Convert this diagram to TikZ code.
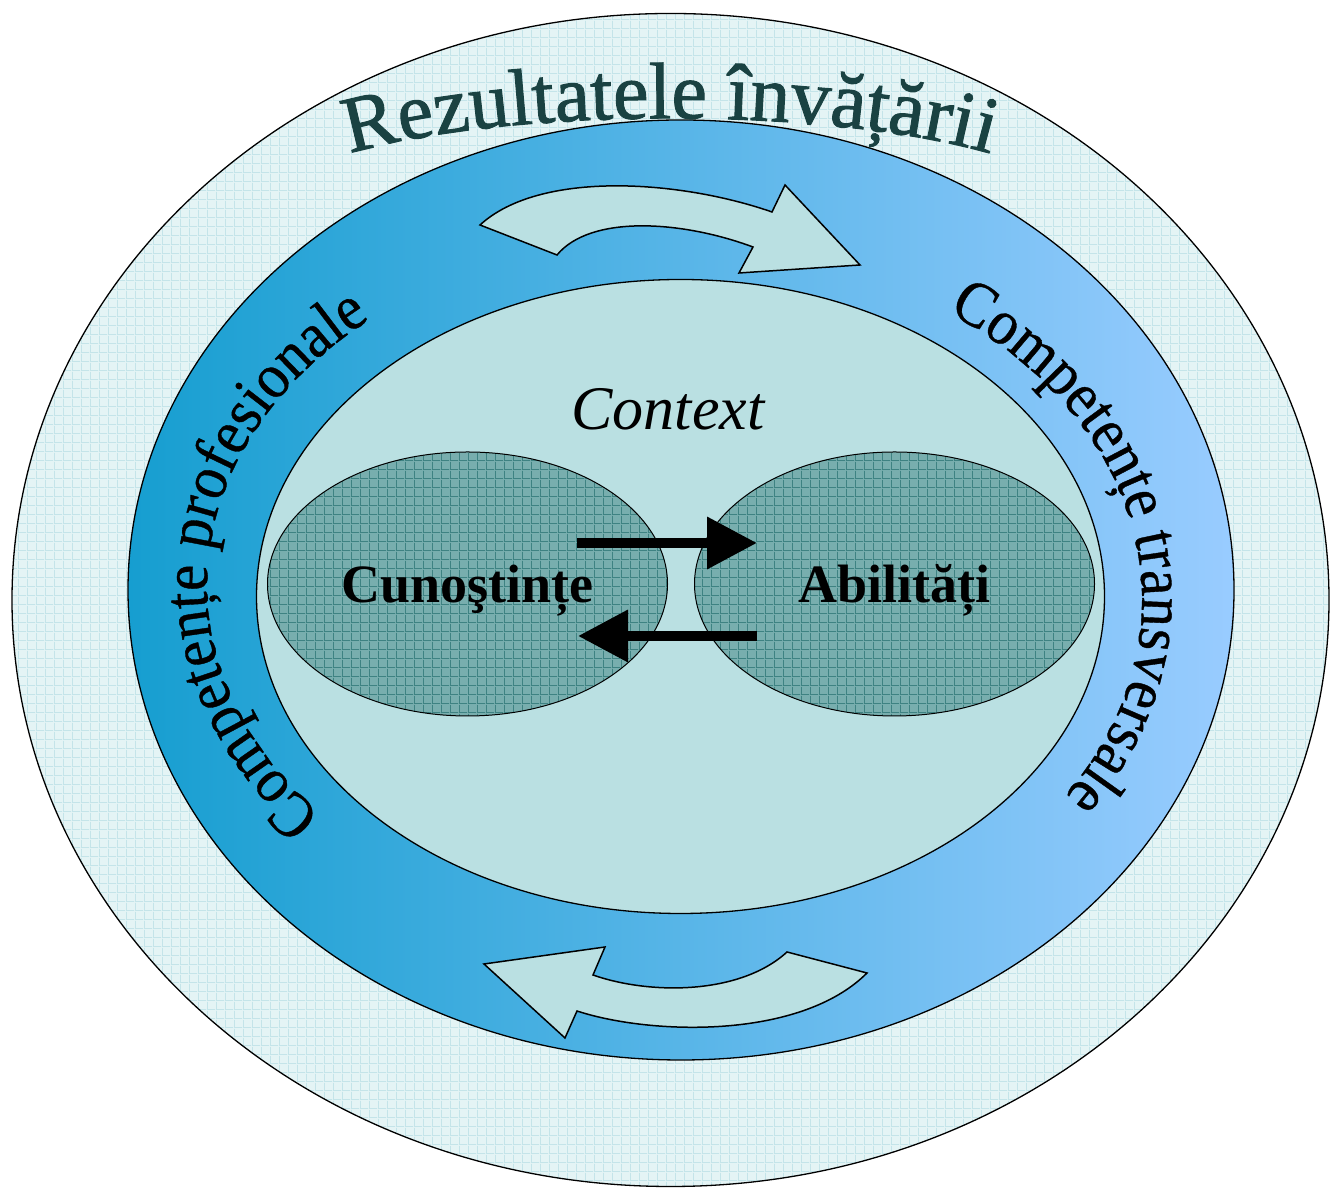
\documentclass[tikz,border=0pt]{standalone}
\usepackage{fontspec}
\setmainfont{Liberation Serif}
\newfontfamily\rezfamily[FakeBold=1.2]{Liberation Serif}
\newfontfamily\bandfamily[FakeStretch=0.92,FakeBold=0.6]{Liberation Serif}
\usetikzlibrary{shapes.geometric, positioning, arrows.meta, decorations.text, patterns.meta}
\definecolor{paper}{RGB}{228,244,245}
\definecolor{papergrid}{RGB}{196,228,233}
\definecolor{bandleft}{RGB}{22,158,208}
\definecolor{bandright}{RGB}{153,204,255}
\definecolor{innerfill}{RGB}{186,224,226}
\definecolor{knowfill}{RGB}{120,174,174}
\definecolor{knowgrid}{RGB}{62,130,130}
\definecolor{titletext}{RGB}{26,66,66}
\newcommand\rezfont{\rezfamily\fontsize{80}{80}\selectfont}
\newcommand\bandfont{\bandfamily\fontsize{64}{64}\selectfont}
\tikzdeclarepattern{
  name=cellgrid,
  type=uncolored,
  bounding box={(0pt,0pt) and (9pt,9pt)},
  tile size={(9pt,9pt)},
  code={
    \pgfpathrectangle{\pgfpointorigin}{\pgfpoint{9pt}{0.9pt}}
    \pgfpathrectangle{\pgfpointorigin}{\pgfpoint{0.9pt}{9pt}}
    \pgfusepath{fill}
  }
}
\tikzstyle{knowbox} = [ellipse,draw,line width=1pt,minimum width=400pt,minimum height=264pt,text height=37pt,text depth=0pt,preaction={fill=knowfill},pattern=cellgrid,pattern color=knowgrid,font=\bfseries\fontsize{54}{54}\selectfont]
\tikzstyle{bendarrow} = [draw,line width=1.5pt,fill=innerfill,line join=miter]
\tikzstyle{passarrow} = [line width=10pt,-{Triangle[length=50pt,width=50pt]}]

\begin{document}
\begin{tikzpicture}[x=1pt,y=1pt]
		\useasboundingbox (0,0) rectangle (1331,1190);
		\draw[line width=1.3pt,preaction={fill=paper},pattern=cellgrid,pattern color=papergrid](670.5,590) ellipse [x radius=658.5pt,y radius=586.5pt];
		\draw[line width=1.3pt,left color=bandleft,right color=bandright](681,600) ellipse [x radius=553pt,y radius=470pt];
		\draw[line width=1.3pt,fill=innerfill](680.5,593.5) ellipse [x radius=424pt,y radius=317pt];

		\draw[bendarrow](480,965) .. controls (540,1020) and (680,1010) .. (772,978) -- (785,1005) -- (860,925) -- (739,917) -- (753,943) .. controls (680,970) and (590,975) .. (557,935) -- cycle;
		\draw[bendarrow](787,238) .. controls (740,195) and (650,195) .. (593,215) -- (605,243) -- (484,226) -- (565,152) -- (577,179) .. controls (650,155) and (800,150) .. (867,217) -- cycle;

		\node [knowbox](cun) at (467.5,606){Cunoştințe};
		\node [knowbox,right=26pt of cun](abil){Abilități};
		\node [font=\itshape\fontsize{62}{62}\selectfont](ctx) at (668,781){Context};

		\coordinate (fwdA) at (577,647);
		\coordinate (fwdB) at (757,647);
		\coordinate (backA) at (757,554);
		\coordinate (backB) at (578,554);
		\draw[passarrow](fwdA)--(fwdB);
		\draw[passarrow](backA)--(backB);

		\coordinate (profctr) at (681,605);
		\coordinate (transctr) at (681,590);
		\path[decorate,decoration={text along path,text align=center,text={|\color{titletext}\rezfont|Rezultatele învățării}}](335,1032) .. controls (500,1085) and (840,1085) .. (1005,1032);
		\path[decorate,decoration={text along path,text align=center,text={|\bandfont|Competențe profesionale}}]([shift={(230:474pt and 352pt)}]profctr) arc [start angle=230,end angle=122,x radius=474pt,y radius=352pt];
		\path[decorate,decoration={text along path,text align=center,text={|\bandfont|Competențe transversale}}]([shift={(64:461pt and 353pt)}]transctr) arc [start angle=64,end angle=-44,x radius=461pt,y radius=353pt];
\end{tikzpicture}
\end{document}
